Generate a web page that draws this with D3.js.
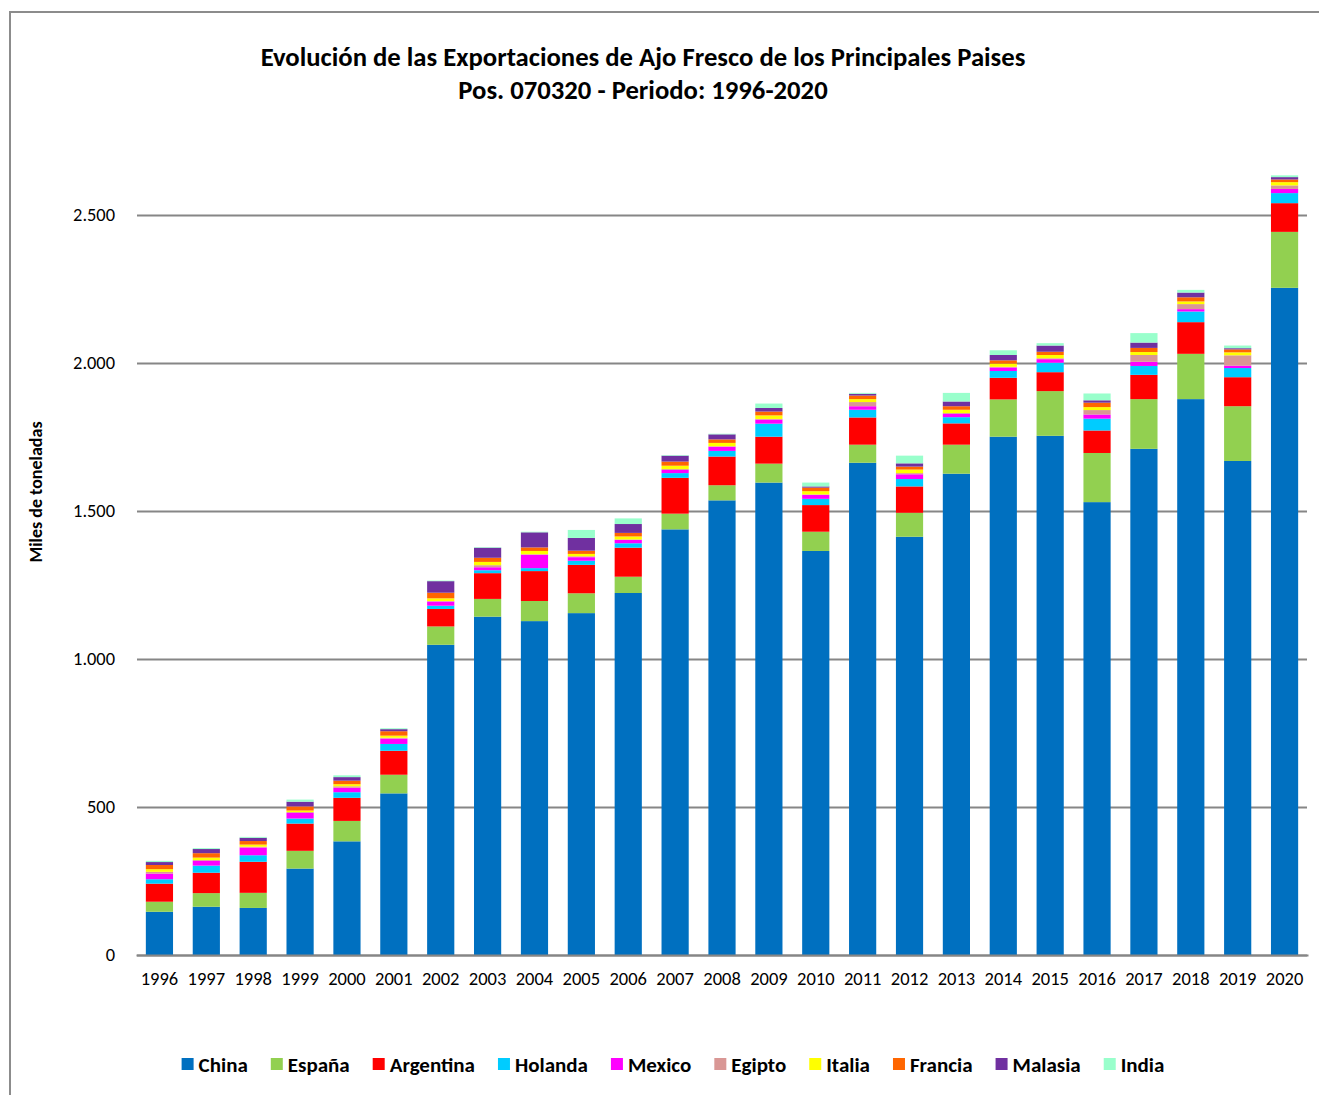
<!DOCTYPE html>
<html>
<head>
<meta charset="utf-8">
<script src="https://cdn.jsdelivr.net/npm/d3@7"></script>
<style>
  body { margin: 0; background: #fff; }
  svg { display: block; font-family: Carlito, Calibri, Lato, sans-serif; }
</style>
</head>
<body>
<svg id="chart" width="1319" height="1095"></svg>
<script>
// years and series, bottom to top of each stack (miles de toneladas)
const YEARS = ["1996","1997","1998","1999","2000","2001","2002","2003","2004","2005","2006","2007","2008","2009","2010","2011","2012","2013","2014","2015","2016","2017","2018","2019","2020"];

const china     = [146,163,159,292,384,546,1048,1143,1128,1155,1223,1438,1536,1596,1365,1663,1413,1626,1751,1754,1530,1710,1878,1669,2254];
const espana    = [34,46,51,60,69,63,62,60,68,67,55,53,51,64,65,61,81,98,126,151,166,168,153,185,189];
const argentina = [61,69,105,92,78,81,59,87,101,96,98,121,97,91,90,92,89,72,73,64,76,82,107,98,97];
const holanda   = [15,24,22,17,19,23,11,10,10,14,15,16,19,44,21,26,25,21,23,32,40,30,36,31,34];
const mexico    = [19,16,26,19,15,18,14,10,45,12,11,11,14,14,13,12,16,11,12,12,14,14,8,8,14];
const egipto    = [6,3,3,3,5,3,2,7,2,3,2,3,2,2,2,14,4,3,2,3,15,23,17,35,12];
const italia    = [9,8,7,5,7,7,9,11,11,8,10,11,11,12,11,10,12,11,11,11,10,10,9,10,11];
const francia   = [14,15,12,14,12,15,19,14,12,11,12,14,12,13,12,12,10,12,11,11,15,14,14,10,9];
const malasia   = [10,14,11,16,12,7,39,34,51,43,30,20,17,12,4,6,11,16,18,21,8,18,16,4,8];
const india     = [4,3,3,7,6,3,2,2,2,27,19,2,2,15,13,3,26,29,16,8,23,32,9,9,6];

const SERIES = ["China","España","Argentina","Holanda","Mexico","Egipto","Italia","Francia","Malasia","India"];
const VALUES = [china, espana, argentina, holanda, mexico, egipto, italia, francia, malasia, india];
const COLORS = ["#0070C0","#92D050","#FF0000","#00CCFF","#FF00FF","#D99795","#FFFF00","#FF6600","#7030A0","#99FFCC"];

const Y_TICKS = [0, 500, 1000, 1500, 2000, 2500];

const PLOT = { left: 136, right: 1308, top: 215, bottom: 955 };
const FONT = "Carlito, Calibri, Lato, sans-serif";

const svg = d3.select("#chart");

// outer frame
svg.append("rect")
  .attr("x", 10)
  .attr("y", 12)
  .attr("width", 1340)
  .attr("height", 1120)
  .attr("fill", "none")
  .attr("stroke", "#8c8c8c")
  .attr("stroke-width", 2);

// title
const title = svg.append("text")
  .attr("text-anchor", "middle")
  .attr("font-weight", "bold")
  .attr("font-size", 26.7)
  .attr("fill", "#000");
title.append("tspan").attr("x", 643).attr("y", 66)
  .text("Evolución de las Exportaciones de Ajo Fresco de los Principales Paises");
title.append("tspan").attr("x", 643).attr("y", 99)
  .text("Pos. 070320 - Periodo: 1996-2020");

const table = YEARS.map((year, i) => {
  const row = { year };
  SERIES.forEach((s, j) => (row[s] = VALUES[j][i]));
  return row;
});

const stacked = d3.stack().keys(SERIES)(table);

const x = d3.scaleBand()
  .domain(YEARS)
  .range([PLOT.left, PLOT.right])
  .paddingInner(0.42)
  .paddingOuter(0.21);

const y = d3.scaleLinear()
  .domain([0, 2500])
  .range([PLOT.bottom, PLOT.top]);

const esLocale = d3.formatLocale({ decimal: ",", thousands: ".", grouping: [3], currency: ["", ""] });
const fmt = esLocale.format(",");

// y axis + gridlines
const yAxis = svg.append("g")
  .attr("transform", `translate(${PLOT.left + 1},0)`)
  .call(
    d3.axisLeft(y)
      .tickValues(Y_TICKS)
      .tickFormat(fmt)
      .tickSize(-(PLOT.right - PLOT.left - 2))
      .tickPadding(22)
  );
yAxis.select(".domain").remove();
yAxis.selectAll(".tick line")
  .attr("stroke", "#868686")
  .attr("stroke-width", 2);
yAxis.selectAll(".tick text")
  .attr("font-size", 18.4)
  .attr("font-family", FONT)
  .attr("fill", "#000");

// y title
svg.append("text")
  .attr("transform", "translate(42,492) rotate(-90)")
  .attr("text-anchor", "middle")
  .attr("font-weight", "bold")
  .attr("font-size", 18)
  .text("Miles de toneladas");

// bars
svg.append("g")
  .selectAll("g")
  .data(stacked)
  .join("g")
  .attr("fill", (d, i) => COLORS[i])
  .selectAll("rect")
  .data((d) => d)
  .join("rect")
  .attr("x", (d) => x(d.data.year))
  .attr("width", x.bandwidth())
  .attr("y", (d) => y(d[1]))
  .attr("height", (d) => Math.max(0, y(d[0]) - y(d[1])));

// x axis
const xAxis = svg.append("g")
  .attr("transform", `translate(0,${PLOT.bottom})`)
  .call(d3.axisBottom(x).tickSize(0).tickPadding(17));
xAxis.select(".domain")
  .attr("stroke", "#868686")
  .attr("stroke-width", 2);
xAxis.selectAll(".tick text")
  .attr("font-size", 18.5)
  .attr("font-family", FONT)
  .attr("fill", "#000");

// legend
const legend = svg.append("g").attr("transform", "translate(0,1064)");
const items = legend.selectAll("g")
  .data(SERIES)
  .join("g");
items.append("rect")
  .attr("y", -6)
  .attr("width", 12)
  .attr("height", 12)
  .attr("fill", (d, i) => COLORS[i]);
items.append("text")
  .attr("x", 17)
  .attr("y", 7.5)
  .attr("font-weight", "bold")
  .attr("font-size", 21)
  .text((d) => d);

let widths = [];
items.each(function () {
  widths.push(d3.select(this).select("text").node().getComputedTextLength() + 17);
});
const gap = 23;
const total = d3.sum(widths) + gap * (widths.length - 1);
let cursor = 673 - total / 2;
items.attr("transform", (d, i) => {
  const t = `translate(${cursor},0)`;
  cursor += widths[i] + gap;
  return t;
});
</script>
</body>
</html>
